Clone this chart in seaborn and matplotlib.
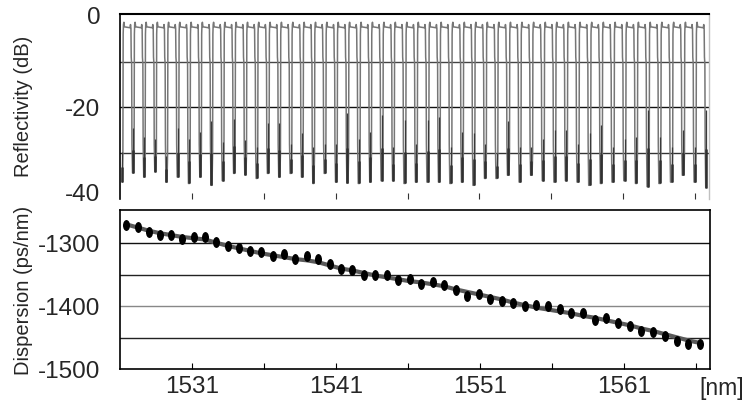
import matplotlib
matplotlib.use("Agg")
import numpy as np
import pandas as pd
import seaborn as sns
import matplotlib.pyplot as plt
from matplotlib.markers import MarkerStyle
from matplotlib.transforms import Affine2D, ScaledTranslation

# CHANNEL GRID (ITU 100 GHz, nm)
channels_nm = [1526.44, 1527.22, 1527.99, 1528.77, 1529.55, 1530.33, 1531.12, 1531.90, 1532.68, 1533.47,
               1534.25, 1535.04, 1535.82, 1536.61, 1537.40, 1538.19, 1538.98, 1539.77, 1540.56, 1541.35,
               1542.14, 1542.94, 1543.73, 1544.53, 1545.32, 1546.12, 1546.92, 1547.72, 1548.51, 1549.32,
               1550.12, 1550.92, 1551.72, 1552.52, 1553.33, 1554.13, 1554.94, 1555.75, 1556.55, 1557.36,
               1558.17, 1558.98, 1559.79, 1560.61, 1561.42, 1562.23, 1563.05, 1563.86, 1564.68, 1565.50,
               1566.31]

# DISPERSION (ps/nm): measured points and fitted curve
dispersion_meas = [-1271, -1273.5, -1281.5, -1286.5, -1286.5, -1293, -1290.5, -1289.5, -1298.5, -1304.5,
                   -1307, -1312, -1314.5, -1320.5, -1317.5, -1325.5, -1320, -1325.5, -1333.5, -1340,
                   -1342.5, -1350.5, -1350.5, -1350.5, -1358.5, -1356.5, -1365, -1361.5, -1366.5, -1374.5,
                   -1383.5, -1381, -1389, -1391, -1394.5, -1400, -1397.5, -1400, -1404.5, -1411,
                   -1411, -1421, -1418, -1427, -1431.5, -1439.5, -1440, -1446.5, -1454.5, -1460, -1460]
dispersion_fit = [-1270, -1275, -1280, -1284, -1287, -1290, -1292, -1294, -1299, -1304,
                  -1308, -1312, -1316, -1319, -1322, -1325, -1327, -1330, -1335, -1340,
                  -1343, -1347, -1351, -1354, -1357, -1360, -1362, -1365, -1368, -1373,
                  -1377, -1381, -1385, -1389, -1394, -1398, -1402, -1405, -1408, -1411,
                  -1415, -1418, -1422, -1426, -1430, -1435, -1439, -1444, -1449, -1454, -1458]

# REFLECTIVITY NOISE FLOOR in each gap (dB), one gap left of every channel + one after the last
noise_top_db = [-29.7, -24.5, -26.4, -27, -30.7, -24.5, -27, -25.3, -23, -27.5,
                -22.5, -27.1, -28.6, -23.5, -23.5, -28, -25.6, -28.6, -28, -28,
                -21.3, -27, -25.3, -21.6, -28.6, -22.7, -28, -22.7, -22, -28.6,
                -25.3, -25.6, -28, -30, -23, -28.6, -28.6, -27, -25, -25,
                -28, -25.6, -23.9, -28.6, -27, -26.4, -20.6, -26.4, -28.6, -25,
                -28.6, -20.6]
noise_bottom_db = [-36.3, -34.3, -35.2, -34, -36.3, -35.2, -36.6, -35.2, -37, -36,
                   -34.4, -34.7, -35.5, -34.4, -35.2, -34.4, -35.2, -36.6, -34.4, -36.3,
                   -36.5, -36.6, -36.3, -36, -36, -36.6, -36.3, -36.3, -36.3, -36.6,
                   -36.3, -37, -35.5, -35.5, -34.8, -36.3, -34.8, -36, -36.3, -36,
                   -36.3, -37, -36.6, -36.3, -36, -36.6, -37.3, -36.6, -36.3, -34.8,
                   -36.3, -37.5]

# passband shape of one grating channel: offset from centre (nm) and level (dB), None = floor
band_dx = [-0.36, -0.32, -0.30, -0.28, -0.25, -0.21, 0.18, 0.21, 0.24, 0.26, 0.29, 0.31, 0.35]
band_db = [None, -30, -4, -1.9, -1.4, -2.4, -2.6, -1.9, -2.8, -9.0, -10.5, -28, None]
band_shift = 0.08

if __name__ == '__main__':
    sns.set_theme(style="white")
    plt.rcParams['font.family'] = ['Liberation Sans', 'DejaVu Sans']
    plt.rcParams['axes.unicode_minus'] = False

    # BUILD REFLECTIVITY TRACE
    wl, refl = [], []
    for i, c in enumerate(channels_nm):
        m = c + band_shift
        for j, (dx, db) in enumerate(zip(band_dx, band_db)):
            if db is None:
                db = noise_bottom_db[i] if j == 0 else noise_bottom_db[i + 1]
            wl.append(m + dx)
            refl.append(db)
    trace = pd.DataFrame({"wl": wl, "refl": refl})
    gap_x = [c + band_shift - 0.40 for c in channels_nm] + [channels_nm[-1] + band_shift + 0.40]
    noise_mid = [(t + b) / 2 for t, b in zip(noise_top_db, noise_bottom_db)]

    disp = pd.DataFrame({"wl": channels_nm, "meas": dispersion_meas, "fit": dispersion_fit})

    fig = plt.figure(figsize=(7.44, 4.09), dpi=100)
    ax1 = fig.add_axes([0.1613, 0.5134, 0.7923, 0.4523])
    ax2 = fig.add_axes([0.1613, 0.0966, 0.7930, 0.3888])

    # TOP: REFLECTIVITY
    for lvl, col in zip([-10, -20, -30], ["#444444", "#111111", "#333333"]):
        ax1.axhline(lvl, color=col, lw=1.0, zorder=1)
    sns.lineplot(data=trace, x="wl", y="refl", sort=False, estimator=None, ax=ax1,
                 color="#767676", lw=1.1, zorder=2)
    ax1.vlines(gap_x, noise_bottom_db, noise_top_db, color="#3a3a3a", lw=0.9, zorder=3)
    ax1.vlines(gap_x, noise_bottom_db, noise_mid, color="#303030", lw=1.8, zorder=3)
    ax1.set_xlim(1526, 1567)
    ax1.set_ylim(-40, 0.4)
    ax1.set_yticks([0, -20, -40])
    ax1.set_xticks([1531, 1536, 1541, 1546, 1551, 1556, 1561, 1566])
    ax1.set_xticklabels([])
    ax1.set_xlabel("")
    ax1.set_ylabel("Reflectivity (dB)", fontsize=14.5)
    ax1.yaxis.set_label_coords(-0.148, 0.5)
    ax1.tick_params(axis="y", length=0, pad=14, labelsize=17.5)
    ax1.tick_params(axis="x", direction="in", length=4, width=0.8, color="#333333", bottom=True)
    ax1.spines["bottom"].set_visible(False)
    ax1.spines["top"].set_color("black")
    ax1.spines["top"].set_linewidth(1.5)
    ax1.spines["left"].set_color("black")
    ax1.spines["left"].set_linewidth(1.2)
    ax1.spines["right"].set_color("#c0c0c0")
    ax1.spines["right"].set_linewidth(1.0)
    # the -40 label sits a little above its level in the original
    lbl = ax1.get_yticklabels()[-1]
    lbl.set_transform(lbl.get_transform() + ScaledTranslation(0, 0.07, fig.dpi_scale_trans))

    # BOTTOM: DISPERSION
    for lvl, col in zip([-1300, -1350, -1400, -1450], ["#111111", "#222222", "#888888", "#222222"]):
        ax2.axhline(lvl, color=col, lw=1.0, zorder=1)
    sns.lineplot(data=disp, x="wl", y="fit", ax=ax2, color="#5a5a5a", lw=3.0, zorder=2)
    dot = MarkerStyle("o", transform=Affine2D().scale(0.64, 1.0))
    sns.scatterplot(data=disp, x="wl", y="meas", ax=ax2, marker=dot, s=62, color="black",
                    edgecolor="black", linewidth=0, zorder=3)
    ax2.set_xlim(1526, 1567)
    ax2.set_ylim(-1500, -1248)
    ax2.set_yticks([-1300, -1400, -1500])
    ax2.set_xticks([1531, 1541, 1551, 1561])
    ax2.set_xticks([1536, 1546, 1556, 1566], minor=True)
    ax2.set_xlabel("")
    ax2.set_ylabel("Dispersion (ps/nm)", fontsize=14.5)
    ax2.yaxis.set_label_coords(-0.148, 0.5)
    ax2.tick_params(axis="y", length=0, pad=14, labelsize=17.5)
    ax2.tick_params(axis="x", which="both", direction="in", length=4, width=0.8, color="black",
                    bottom=True, pad=5, labelsize=17.5)
    for side in ["left", "right", "top", "bottom"]:
        ax2.spines[side].set_color("black")
        ax2.spines[side].set_linewidth(1.2)
    ax2.text(1.02, -0.05, "[nm]", transform=ax2.transAxes, ha="center", va="top", fontsize=16.5)

    fig.savefig("out.png", dpi=100)
